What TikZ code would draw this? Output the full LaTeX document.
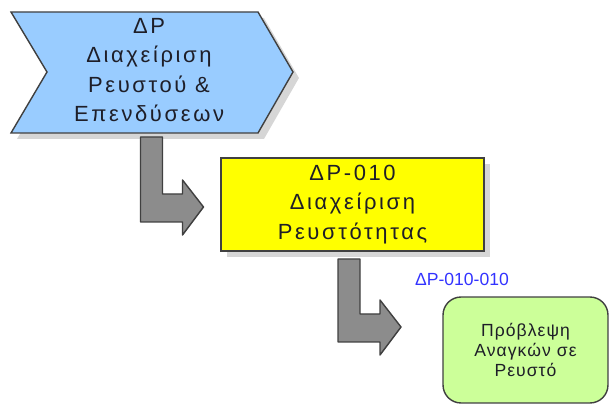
\documentclass[tikz,border=0pt]{standalone}
\usepackage{fontspec}
\setmainfont{Liberation Sans}
\newfontfamily\spacedfont{Liberation Sans}[LetterSpace=12]
\newfontfamily\leaffont{Liberation Sans}[LetterSpace=6]
\usetikzlibrary{calc,shadows}
\definecolor{chevblue}{RGB}{153,204,255}
\definecolor{boxyellow}{RGB}{255,255,0}
\definecolor{leafgreen}{RGB}{204,255,153}
\definecolor{edgegray}{RGB}{64,64,64}
\definecolor{arrowgray}{RGB}{140,140,140}
\definecolor{codeblue}{RGB}{51,51,255}
\definecolor{textdark}{RGB}{30,30,40}
\begin{document}
\begin{tikzpicture}[x=0.02cm,y=-0.02cm,
  boxshadow/.style={drop shadow={shadow xshift=3.4pt,shadow yshift=-3.4pt,fill=black!16,opacity=1}},
  processbox/.style={draw=edgegray,line width=0.8pt,inner sep=0pt,align=center,text=textdark,
    font=\spacedfont\fontsize{12.5}{16.8}\selectfont},
  leafbox/.style={draw=edgegray,line width=0.8pt,fill=leafgreen,rounded corners=0.36cm,
    minimum width=3.3cm,minimum height=2.12cm,align=center,text=textdark,
    font=\leaffont\fontsize{10}{11.4}\selectfont},
  bentarrow/.style={fill=arrowgray,draw=edgegray,line width=0.8pt,line join=round}]
\useasboundingbox (0,0) rectangle (609,405);
\filldraw[processbox,fill=chevblue,boxshadow]
  (11,12) -- (258,12) -- (293,72) -- (258,133) -- (11,133) -- (47,72) -- cycle;
\node[processbox,draw=none] (dp) at (149,70)
  {ΔΡ\\Διαχείριση\\Ρευστού \&\\Επενδύσεων};
\node[processbox,fill=boxyellow,boxshadow,minimum width=5.26cm,minimum height=1.86cm]
  (dp010) at (352.5,204.5) {ΔΡ-010\\Διαχείριση\\Ρευστότητας};
\node[text=codeblue,font=\fontsize{10}{12}\selectfont] (code) at (462,279) {ΔΡ-010-010};
\node[leafbox] (dp010010) at (525.5,350) {Πρόβλεψη\\Αναγκών σε\\Ρευστό};
\coordinate (from1) at (151.5,137);
\coordinate (to1) at (203.5,207);
\coordinate (bend1) at (from1 |- to1);
\filldraw[bentarrow] ($(from1)+(-11,0)$) -- ($(bend1)+(-11,15)$) -- ($(to1)+(-21,15)$)
  -- ($(to1)+(-21,28)$) -- (to1) -- ($(to1)+(-21,-27)$) -- ($(to1)+(-21,-13)$)
  -- ($(bend1)+(11,-13)$) -- ($(from1)+(11,0)$) -- cycle;
\coordinate (from2) at (349,259);
\coordinate (to2) at (401,327);
\coordinate (bend2) at (from2 |- to2);
\filldraw[bentarrow] ($(from2)+(-11,0)$) -- ($(bend2)+(-11,15)$) -- ($(to2)+(-21,15)$)
  -- ($(to2)+(-21,28)$) -- (to2) -- ($(to2)+(-21,-27)$) -- ($(to2)+(-21,-13)$)
  -- ($(bend2)+(11,-13)$) -- ($(from2)+(11,0)$) -- cycle;
\end{tikzpicture}
\end{document}
